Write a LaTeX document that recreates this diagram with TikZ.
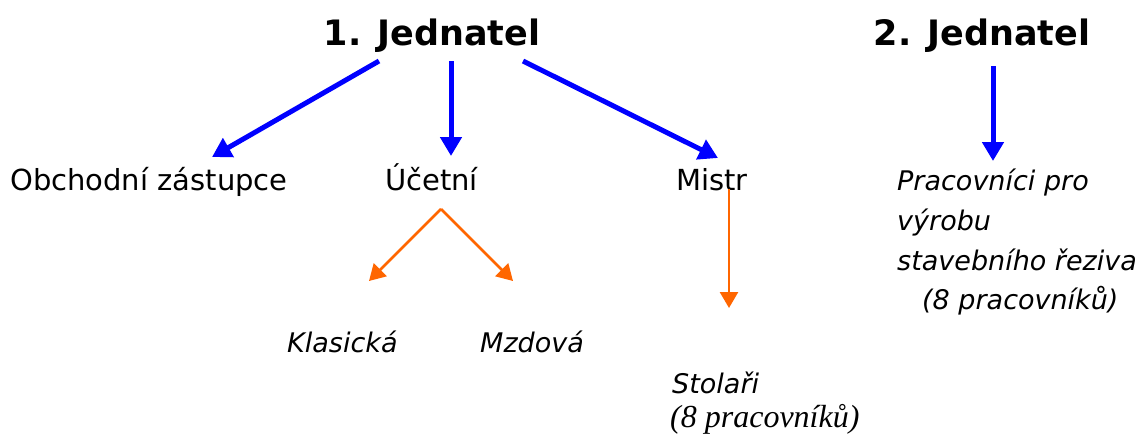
\documentclass[tikz,border=0pt]{standalone}
\usepackage{fontspec}
\usetikzlibrary{arrows.meta}
\setmainfont{DejaVu Sans}
\newfontfamily\serifit{Liberation Serif}
\definecolor{arrblue}{RGB}{0,0,255}
\definecolor{arrorange}{RGB}{255,102,0}
\begin{document}
\begin{tikzpicture}[x=1pt,y=-1pt,
  boss/.style={anchor=base, inner sep=0pt, font=\fontsize{35}{40}\selectfont\bfseries},
  role/.style={anchor=base west, inner sep=0pt, font=\fontsize{29}{40}\selectfont},
  sub/.style={anchor=base west, inner sep=0pt, font=\fontsize{27}{40}\selectfont\itshape},
  bluearr/.style={draw=arrblue, line width=5pt, -{Triangle[length=19pt,width=21pt]}},
  orarr/.style={draw=arrorange, line width=2.6pt, -{Triangle[length=16pt,width=18pt]}}]
\useasboundingbox (0,0) rectangle (1143,434);
\fill[white] (0,0) rectangle (1143,434);

\node[boss] (j1) at (432,45) {1. Jednatel};
\node[boss] (j2) at (982,45) {2. Jednatel};

\node[role] (obch) at (10,190) {Obchodní zástupce};
\node[role] (ucet) at (385,190) {Účetní};
\node[role] (mistr) at (676,190) {Mistr};

\node[sub] (prac) at (897,190) {Pracovníci pro};
\node[sub] (vyr) at (897,230) {výrobu};
\node[sub] (stav) at (897,270) {stavebního řeziva};
\node[sub] (prac8) at (922,309) {(8 pracovníků)};

\node[sub] (klas) at (287,352) {Klasická};
\node[sub] (mzd) at (480,352) {Mzdová};
\node[sub] (stol) at (672,393) {Stolaři};
\node[anchor=base west, inner sep=0pt, font=\fontsize{32}{36}\selectfont\serifit\itshape] (stol8) at (670,427) {(8 pracovníků)};

\coordinate (a1s) at (379,61);
\coordinate (a1e) at (212,157);
\coordinate (a2s) at (451,61);
\coordinate (a2e) at (451,156);
\coordinate (a3s) at (523,61);
\coordinate (a3e) at (718,158);
\coordinate (a4s) at (993,66);
\coordinate (a4e) at (993,161);
\coordinate (o0) at (441,209);
\coordinate (o1) at (369,281);
\coordinate (o2) at (513,281);
\coordinate (o3s) at (729,189);
\coordinate (o3e) at (729,308);

\draw[bluearr] (a1s) -- (a1e);
\draw[bluearr] (a2s) -- (a2e);
\draw[bluearr] (a3s) -- (a3e);
\draw[bluearr] (a4s) -- (a4e);
\draw[orarr] (o0) -- (o1);
\draw[orarr] (o0) -- (o2);
\draw[orarr] (o3s) -- (o3e);
\end{tikzpicture}
\end{document}
